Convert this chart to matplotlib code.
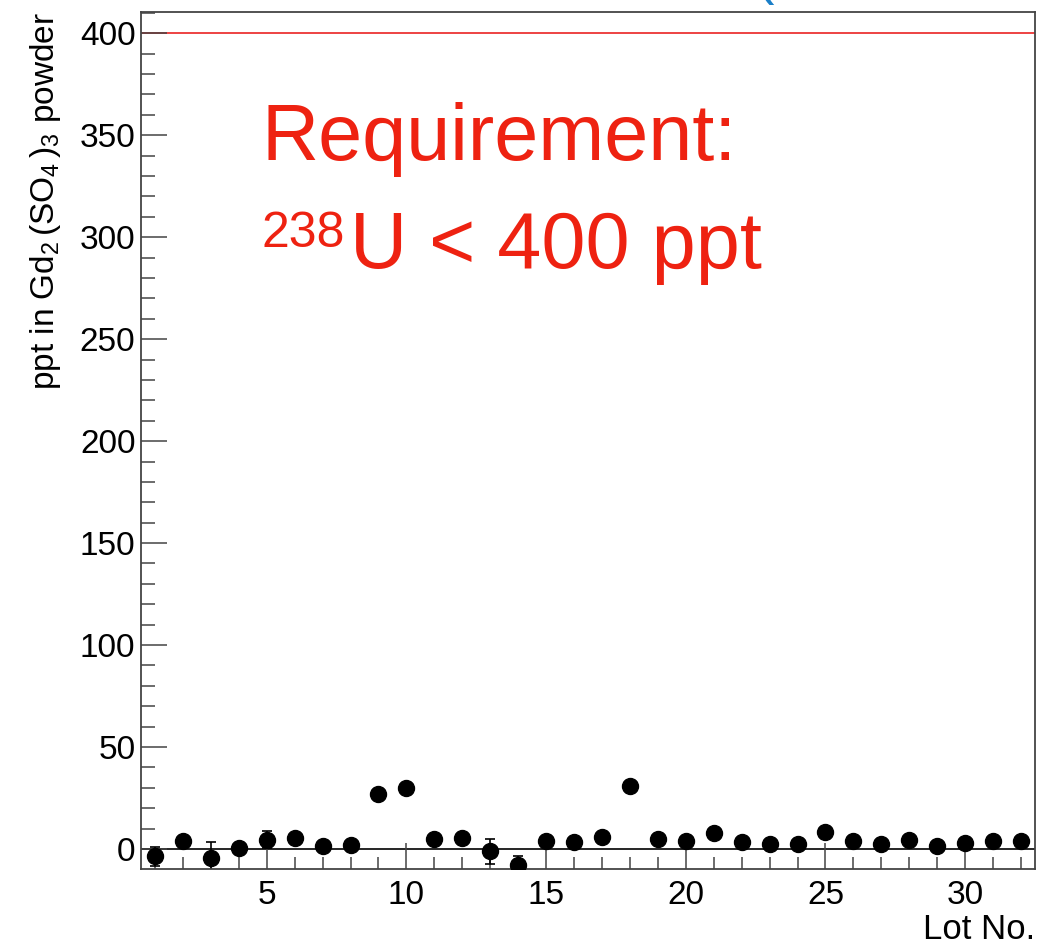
import numpy as np
import matplotlib
matplotlib.use("Agg")
import matplotlib.pyplot as plt
from matplotlib.ticker import MultipleLocator

plt.rcParams['font.family'] = ['Liberation Sans', 'DejaVu Sans']
plt.rcParams['mathtext.fontset'] = 'custom'
plt.rcParams['mathtext.rm'] = 'Liberation Sans'
plt.rcParams['mathtext.it'] = 'Liberation Sans:italic'

# U-238 content per Gd2(SO4)3 lot, ppt
lot_no = np.arange(1, 33)
u238_ppt = [-3.6, 3.8, -4.6, 0.5, 4.6, 5.2, 1.6, 1.8, 26.8, 29.7,
            5.1, 5.4, -1.2, -7.8, 4.1, 3.6, 5.9, 30.7, 4.7, 3.8,
            8.0, 3.6, 2.6, 2.3, 8.5, 4.1, 2.4, 4.2, 1.6, 2.8,
            4.1, 4.1]
u238_err = [4.5, 1.5, 7.8, 1.5, 4.0, 1.5, 1.5, 1.5, 1.5, 1.5,
            1.5, 1.5, 6.0, 4.2, 1.5, 1.5, 1.5, 1.5, 1.5, 1.5,
            1.5, 1.5, 1.5, 1.5, 1.5, 1.5, 1.5, 1.5, 1.5, 1.5,
            1.5, 1.5]
requirement_ppt = 400

W, H = 1055, 944
fig = plt.figure(figsize=(W / 100, H / 100), dpi=100)
ax = fig.add_axes([141 / W, 1 - 869 / H, (1035 - 141) / W, (869 - 12) / H])

frame_color = '#444444'
red = '#ee2211'

ax.axhline(0, color='black', lw=1.2, zorder=1)
ax.axhline(requirement_ppt, color='#e81010', lw=1.1, zorder=1)

# error bars first, then the markers on top so short bars hide behind them
ax.errorbar(lot_no, u238_ppt, yerr=u238_err, fmt='none', ecolor='black',
            elinewidth=1.2, capsize=3.6, capthick=1.2, zorder=2)
ax.plot(lot_no, u238_ppt, 'o', color='black', ms=11.5, zorder=3)

ax.set_xlim(0.5, 32.5)
ax.set_ylim(-9.8, 410.4)

ax.xaxis.set_major_locator(MultipleLocator(5))
ax.xaxis.set_minor_locator(MultipleLocator(1))
ax.yaxis.set_major_locator(MultipleLocator(50))
ax.yaxis.set_minor_locator(MultipleLocator(10))

ax.tick_params(axis='x', which='major', direction='in', length=19, width=1.1,
               color=frame_color, labelsize=24, pad=8)
ax.tick_params(axis='x', which='minor', direction='in', length=9, width=1.1,
               color=frame_color)
ax.tick_params(axis='y', which='major', direction='in', length=19, width=1.1,
               color=frame_color, labelsize=24, pad=4)
ax.tick_params(axis='y', which='minor', direction='in', length=10, width=1.1,
               color=frame_color)

for side in ax.spines.values():
    side.set_color(frame_color)
    side.set_linewidth(1.3)

ax.set_xlabel('Lot No.', fontsize=25, ha='right', labelpad=0)
ax.xaxis.set_label_coords(1.0, (869 - 939) / 857)
ax.xaxis.label.set_verticalalignment('baseline')

fig.text(46 / W, 1 - 12 / H,
         r'ppt in Gd$_2\,$(SO$_4\,$)$_3$ powder',
         rotation=90, ha='center', va='top', fontsize=24)

# requirement note, superscript drawn as its own smaller text
fig.text(262 / W, 1 - 160 / H, 'Requirement:',
         color=red, fontsize=57, ha='left', va='baseline')
fig.text(262 / W, 1 - 247 / H, '238',
         color=red, fontsize=36, ha='left', va='baseline')
fig.text(350 / W, 1 - 268 / H, 'U < 400 ppt',
         color=red, fontsize=57, ha='left', va='baseline')

# tail of the title above the frame
fig.text(765 / W, 1 - 5 / H, '(', color='#1a7fc8', fontsize=40,
         ha='center', va='bottom')

fig.savefig('out.png', dpi=100)
